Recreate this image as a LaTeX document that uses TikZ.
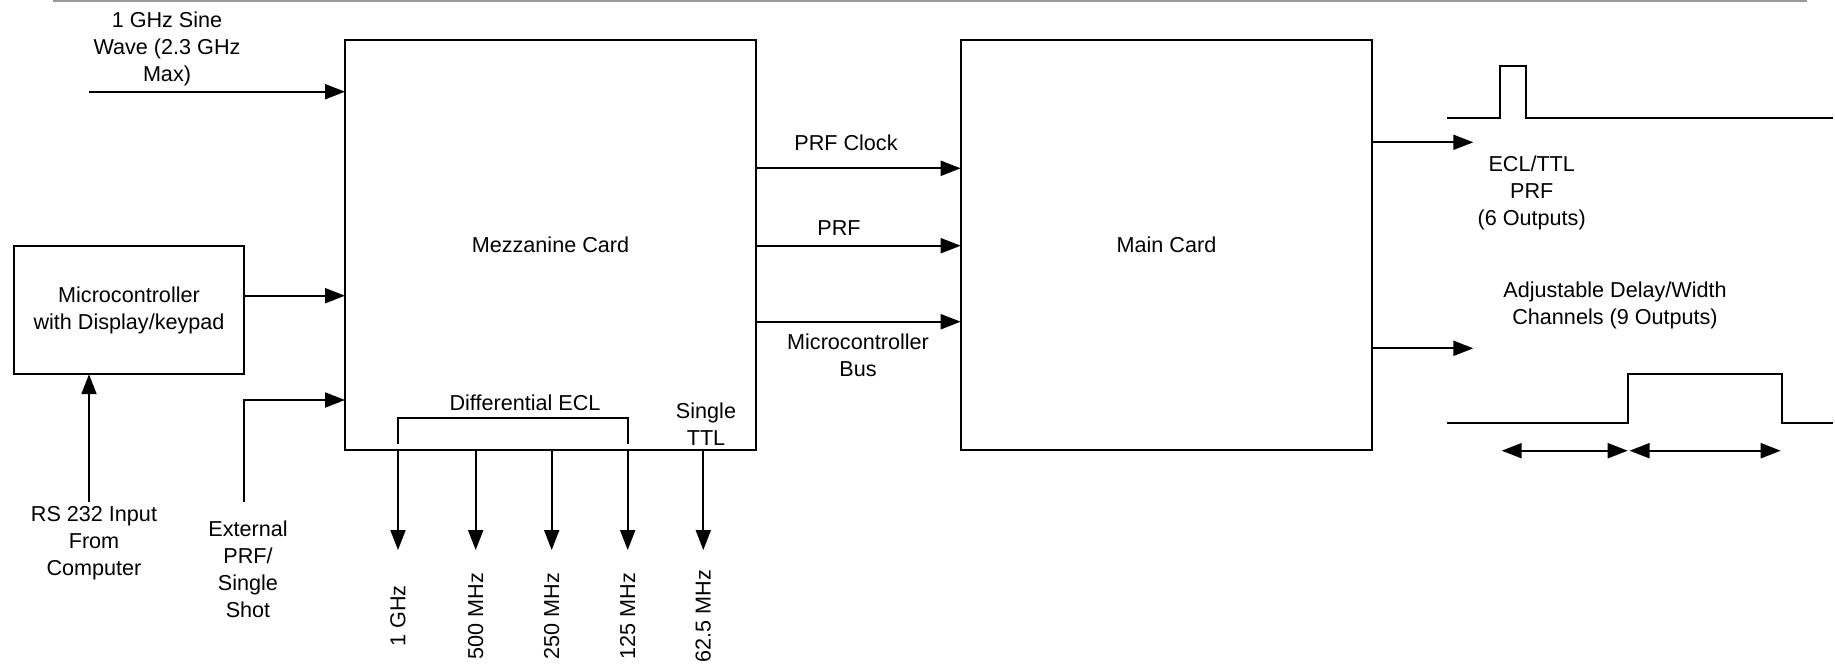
\documentclass[tikz,border=0pt]{standalone}
\usepackage{fontspec}
\setmainfont{Liberation Sans}
\usetikzlibrary{arrows.meta}
\begin{document}
\begin{tikzpicture}[x=0.5pt,y=-0.5pt,
  every node/.style={font=\fontsize{10.8}{13.5}\selectfont, inner sep=0pt, align=center},
  card/.style={draw, line width=1pt, minimum width=#1, outer sep=0pt},
  arr/.style={line width=1pt, -{Triangle[length=10pt,width=7.5pt]}},
  dblarr/.style={line width=1pt, {Triangle[length=10pt,width=7.5pt]}-{Triangle[length=10pt,width=7.5pt]}},
  wire/.style={line width=1pt},
  lbl/.style={}]
\useasboundingbox (0,0) rectangle (1835,666);
% top rule
\coordinate (ruleL) at (53,1);
\coordinate (ruleR) at (1806.7,1);
\draw[line width=0.7pt, color=black!40] (ruleL) -- (ruleR);

% boxes
\node[card=205.5pt, minimum height=205pt] (mezz) at (550.5,244.5) {Mezzanine Card};
\node[card=205.8pt, minimum height=205pt] (main) at (1166.5,245) {Main Card};
\node[card=115pt, minimum height=64.2pt] (micro) at (129,310) {Microcontroller\\with Display/keypad};

% sine wave input
\node[lbl] (sinelbl) at (167,49) {1 GHz Sine\\Wave (2.3 GHz\\Max)};
\coordinate (sw) at (89,91.7);
\draw[arr] (sw) -- (sw -| mezz.west);

% micro -> mezz
\coordinate (my) at (0,295.7);
\draw[arr] (micro.east |- my) -- (mezz.west |- my);

% RS232
\node[lbl] (rslbl) at (94,543) {RS 232 Input\\From\\Computer};
\coordinate (rstop) at (89,501.7);
\draw[arr] (rstop) -- (rstop |- micro.south);

% External PRF
\node[lbl] (extlbl) at (248,569) {External\\PRF/\\Single\\Shot};
\coordinate (exttop) at (244,501.7);
\coordinate (extc) at (244,400);
\draw[arr] (exttop) -- (extc) -- (extc -| mezz.west);

% mezz -> main
\coordinate (c1) at (0,168.3);
\coordinate (c2) at (0,245.7);
\coordinate (c3) at (0,321.7);
\draw[arr] (mezz.east |- c1) -- (main.west |- c1);
\draw[arr] (mezz.east |- c2) -- (main.west |- c2);
\draw[arr] (mezz.east |- c3) -- (main.west |- c3);
\node[lbl] (prfclk) at (846,142.7) {PRF Clock};
\node[lbl] (prf) at (839,228) {PRF};
\node[lbl] (mbus) at (858,355.5) {Microcontroller\\Bus};

% Differential ECL bracket
\node[lbl] (diff) at (525,402.5) {Differential ECL};
\coordinate (bl) at (398,418.3);
\coordinate (br) at (627.7,418.3);
\draw[wire] (398,444) -- (bl) -- (br) -- (627.7,444);
\node[lbl] (ttl) at (706,424) {Single\\TTL};

% down outputs
\foreach \x/\t/\n in {398/1 GHz/o1, 475.7/500 MHz/o2, 551.7/250 MHz/o3, 627.7/125 MHz/o4, 703.3/62.5 MHz/o5}{
  \coordinate (\n) at (\x,550);
  \draw[arr] (\n |- mezz.south) -- (\n);
  \node[lbl, rotate=90] (\n l) at (\x,616) {\t};
}

% main outputs
\coordinate (e1) at (1473.3,142.3);
\coordinate (e2) at (1473.3,348.3);
\draw[arr] (main.east |- e1) -- (e1);
\draw[arr] (main.east |- e2) -- (e2);
\node[lbl] (ecl) at (1531.7,193.3) {ECL/TTL\\PRF\\(6 Outputs)};
\node[lbl] (adj) at (1615,305) {Adjustable Delay/Width\\Channels (9 Outputs)};

% waveforms
\draw[wire] (1447.3,117.7) -- (1499.7,117.7) -- (1499.7,66) -- (1525.7,66) -- (1525.7,117.7) -- (1832.7,117.7);
\draw[wire] (1447.3,423.3) -- (1627.7,423.3) -- (1627.7,374.3) -- (1782.3,374.3) -- (1782.3,423.3) -- (1832.7,423.3);

% delay/width arrows
\coordinate (d1) at (1501.7,450.7);
\coordinate (d2) at (1627.7,450.7);
\coordinate (d3) at (1629.5,450.7);
\coordinate (d4) at (1780.7,450.7);
\draw[dblarr] (d1) -- (d2);
\draw[dblarr] (d3) -- (d4);
\end{tikzpicture}
\end{document}
